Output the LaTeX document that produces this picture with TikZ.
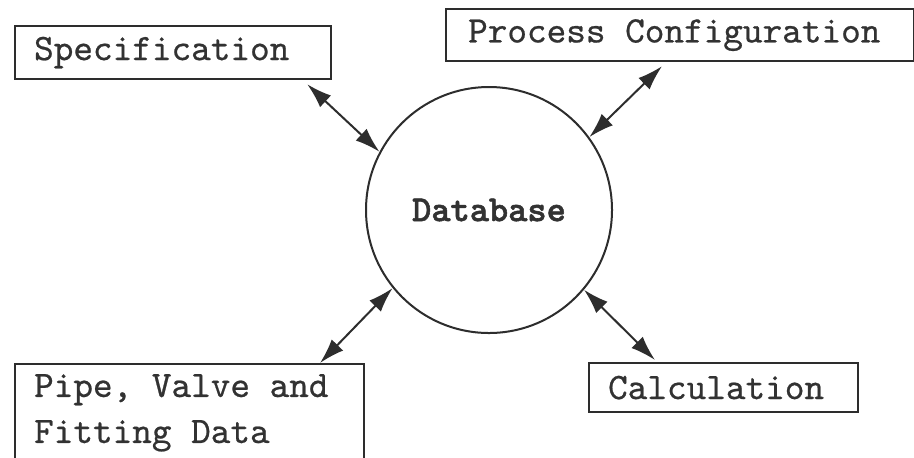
\documentclass[tikz,border=0pt]{standalone}
\usepackage{fontspec}
\newfontfamily\boxfont{lmmono10-regular.otf}[FakeBold=0.6]
\newfontfamily\dbfont{lmmonolt10-bold.otf}[FakeBold=1.5]
\newcommand\boxsetup{\boxfont\fontsize{18.7}{23}\selectfont}
\newcommand\fixspace{\spaceskip=9.8pt\relax\xspaceskip=9.8pt\relax}
\usetikzlibrary{arrows.meta}
\definecolor{ink}{RGB}{45,45,45}
\definecolor{txt}{RGB}{50,50,50}
\begin{document}
\begin{tikzpicture}[x=0.5pt,y=-0.5pt,
  box/.style={draw=ink, line width=1.1pt, rectangle, anchor=north west, align=left,
    inner xsep=9.5pt, inner ysep=0pt, text=txt, font=\boxsetup,
    execute at begin node=\fixspace},
  dbstyle/.style={draw=ink, line width=1pt, circle, minimum size=123pt, inner sep=0pt,
    text=txt, font=\dbfont\fontsize{18.3}{20}\selectfont},
  link/.style={draw=ink, line width=1pt, {Latex[length=12.5pt,width=8pt]}-{Latex[length=12.5pt,width=8pt]}}]
\path[use as bounding box, fill=white] (0,0) rectangle (914,457);
\node[box, text width=139pt, minimum height=26.5pt] (spec) at (14,25) {Specification};
\node[box, inner xsep=11pt, text width=212pt, minimum height=26pt] (proc) at (445,8) {Process Configuration};
\node[box, text width=115.5pt, minimum height=24.5pt] (calc) at (588,362) {Calculation};
\node[box, inner ysep=5pt, text width=155.5pt] (pipe) at (14,363) {Pipe, Valve and\\Fitting Data};
\node[dbstyle] (db) at (489,210) {Database};
\draw[link] ([xshift=-12.5pt,yshift=-2pt]spec.south east) -- (db.152.8);
\draw[link] ([xshift=108.5pt,yshift=-2pt]proc.south west) -- (db.36.4);
\draw[link] ([xshift=153pt]pipe.north west) -- (db.219.4);
\draw[link] ([xshift=33.5pt,yshift=1pt]calc.north west) -- (db.320.3);
\end{tikzpicture}
\end{document}
